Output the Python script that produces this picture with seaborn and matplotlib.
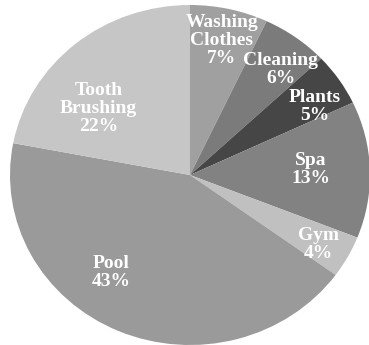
import matplotlib
matplotlib.use("Agg")
import matplotlib.pyplot as plt
import seaborn as sns
import numpy as np

categories = ["Washing\nClothes", "Cleaning", "Plants", "Spa", "Gym", "Pool", "Tooth\nBrushing"]
values = [7, 6, 5, 13, 4, 43, 22]
colors = ["#a0a0a0", "#7b7b7b", "#464646", "#828282", "#c0c0c0", "#9a9a9a", "#c6c6c6"]
# label placement: (radius fraction, angle shift in degrees, clockwise)
label_r = [0.81, 0.80, 0.80, 0.67, 0.82, 0.72, 0.64]
label_shift = [0, 3, 4, -1, 1, 14, -13]

sns.set_theme(style="white")
plt.rcParams['font.family'] = ['Liberation Serif', 'DejaVu Serif']

fig = plt.figure(figsize=(3.69, 3.45), dpi=100)
ax = fig.add_axes([10/369, 0, 360/369, 340/345])
wedges, _ = ax.pie(values, colors=colors, startangle=90, counterclock=False,
                   radius=1, wedgeprops=dict(linewidth=0))
ax.set_aspect('auto')
ax.set_xlim(-1, 1)
ax.set_ylim(-1, 1)
ax.axis('off')

total = sum(values)
for w, cat, v, r, s in zip(wedges, categories, values, label_r, label_shift):
    mid = np.deg2rad((w.theta1 + w.theta2) / 2 - s)
    x, y = r * np.cos(mid), r * np.sin(mid)
    ax.text(x, y, f"{cat}\n{round(100*v/total)}%", ha="center", va="center",
            color="white", fontsize=14, fontweight="bold", linespacing=1.08)

fig.savefig("out.png", dpi=100)
